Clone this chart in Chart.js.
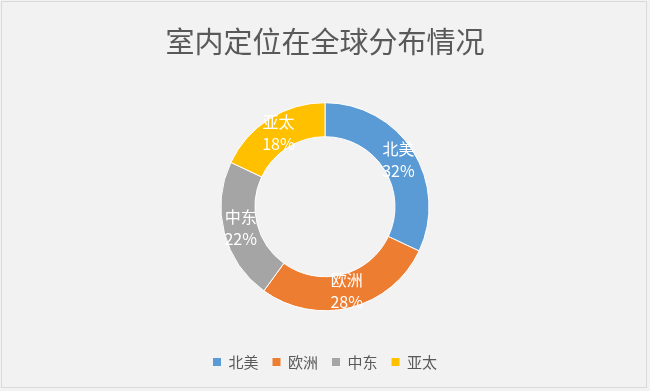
<!DOCTYPE html>
<html>
<head>
<meta charset="utf-8">
<script src="https://cdn.jsdelivr.net/npm/chart.js@4/dist/chart.umd.min.js"></script>
<style>
  html, body { margin: 0; padding: 0; background: #F2F2F2; }
  #wrap { width: 650px; height: 391px; position: relative; }
</style>
</head>
<body>
<div id="wrap"><canvas id="c" width="650" height="391"></canvas></div>
<script>
const titleText = '室内定位在全球分布情况';
const categories = ['北美', '欧洲', '中东', '亚太'];
const shares = [32, 28, 22, 18];
const colors = ['#5B9BD5', '#ED7D31', '#A5A5A5', '#FFC000'];

const FONT = '"Noto Sans CJK SC", "Noto Sans", sans-serif';

const bgPlugin = {
  id: 'bg',
  beforeDraw(chart) {
    const ctx = chart.ctx;
    ctx.save();
    ctx.fillStyle = '#F2F2F2';
    ctx.fillRect(0, 0, chart.width, chart.height);
    ctx.strokeStyle = '#D9D9D9';
    ctx.lineWidth = 1;
    ctx.strokeRect(1.5, 1.5, chart.width - 5, chart.height - 5);
    ctx.restore();
  }
};

const labelPlugin = {
  id: 'sliceLabels',
  afterDatasetsDraw(chart) {
    const ctx = chart.ctx;
    const meta = chart.getDatasetMeta(0);
    ctx.save();
    ctx.fillStyle = '#FFFFFF';
    ctx.font = '16px ' + FONT;
    ctx.textAlign = 'center';
    ctx.textBaseline = 'middle';
    meta.data.forEach((arc, i) => {
      const p = arc.tooltipPosition();
      ctx.fillText(categories[i], p.x, p.y - 11);
      ctx.fillText(shares[i] + '%', p.x, p.y + 11);
    });
    ctx.restore();
  }
};

new Chart(document.getElementById('c'), {
  type: 'doughnut',
  data: {
    labels: categories,
    datasets: [{
      data: shares,
      backgroundColor: colors,
      borderColor: '#FFFFFF',
      borderWidth: 1,
      radius: 104
    }]
  },
  options: {
    responsive: false,
    animation: false,
    cutout: '67.3%',
    layout: { padding: { top: 0, bottom: 11.5, left: 0, right: 0 } },
    plugins: {
      tooltip: { enabled: false },
      title: {
        display: true,
        text: titleText,
        color: '#595959',
        font: { family: FONT, size: 29, weight: 'normal' },
        padding: { top: 24.6, bottom: 13.5 }
      },
      legend: {
        display: true,
        position: 'bottom',
        labels: {
          color: '#595959',
          font: { family: FONT, size: 15 },
          boxWidth: 8,
          boxHeight: 8,
          padding: 14,
          generateLabels(chart) {
            return categories.map((c, i) => ({
              text: c,
              fillStyle: colors[i],
              strokeStyle: colors[i],
              lineWidth: 0,
              fontColor: '#595959',
              hidden: false,
              index: i
            }));
          }
        }
      }
    }
  },
  plugins: [bgPlugin, labelPlugin]
});
</script>
</body>
</html>
